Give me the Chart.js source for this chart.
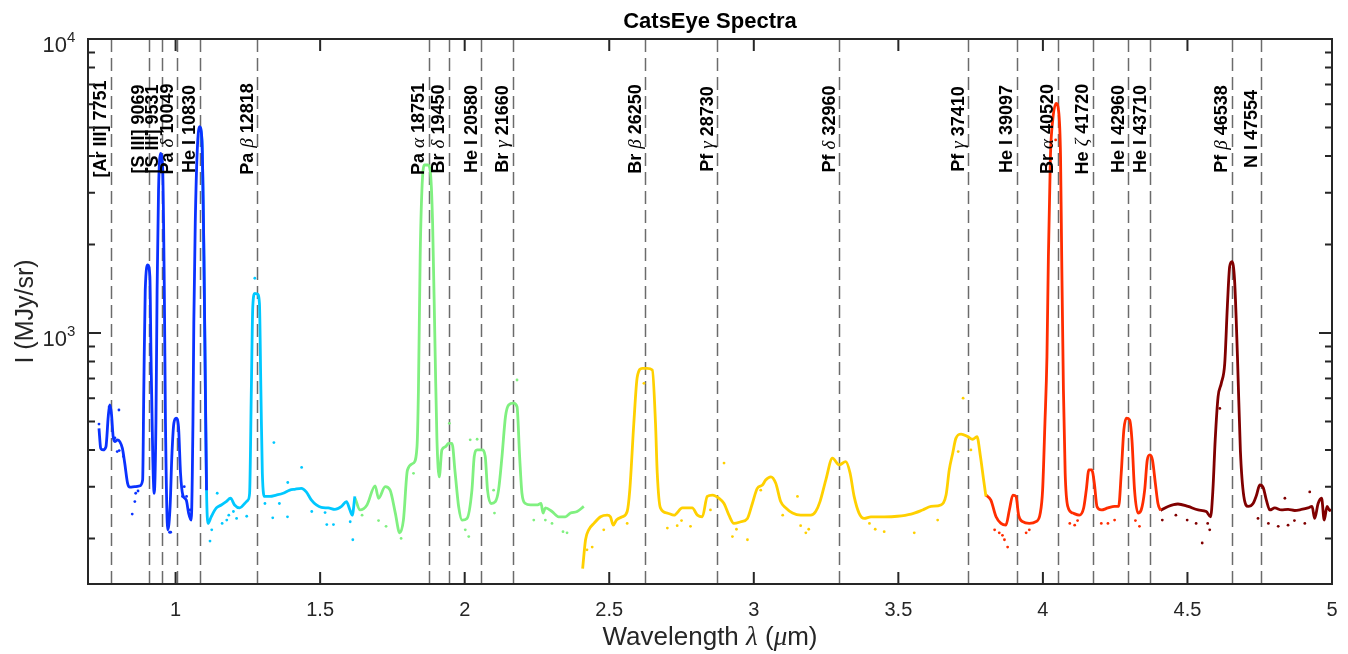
<!DOCTYPE html>
<html>
<head>
<meta charset="utf-8">
<title>CatsEye Spectra</title>
<script src="https://cdn.jsdelivr.net/npm/chart.js@4.4.1/dist/chart.umd.min.js"></script>
<style>
  html, body { margin: 0; padding: 0; background: #fff; }
  #wrap { width: 1348px; height: 654px; position: relative; }
</style>
</head>
<body>
<div id="wrap"><canvas id="spectrum"></canvas></div>
<script>
// ---- data (wavelength in um, intensity in MJy/sr) ----

// segment 1 (blue)
const blueWave = [0.735, 0.741, 0.749, 0.759, 0.767, 0.772, 0.778, 0.784, 0.790, 0.798, 0.807, 0.816, 0.824, 0.834, 0.842, 0.859, 0.876, 0.886, 0.890, 0.895, 0.904, 0.911, 0.915, 0.921, 0.926, 0.932, 0.936, 0.941, 0.948, 0.955, 0.961, 0.965, 0.973, 0.981, 0.987, 0.994, 1.002, 1.010, 1.017, 1.025, 1.037, 1.045, 1.054, 1.060, 1.063, 1.068, 1.075, 1.083, 1.091, 1.098, 1.103, 1.107];
const blueFlux = [474, 405, 400, 410, 519, 569, 533, 444, 427, 433, 427, 405, 361, 308, 299, 300, 302, 316, 640, 1400, 1703, 1554, 830, 380, 285, 493, 1400, 3063, 4083, 3681, 1400, 493, 214, 257, 380, 493, 513, 480, 334, 281, 270, 244, 231, 493, 1079, 2361, 4190, 5035, 4535, 1818, 640, 292];

// segment 2 (cyan)
const cyanWave = [1.083, 1.091, 1.098, 1.103, 1.107, 1.112, 1.123, 1.141, 1.158, 1.175, 1.190, 1.204, 1.222, 1.239, 1.250, 1.256, 1.262, 1.267, 1.274, 1.283, 1.290, 1.295, 1.300, 1.308, 1.326, 1.348, 1.372, 1.395, 1.412, 1.435, 1.452, 1.470, 1.487, 1.504, 1.528, 1.551, 1.574, 1.591, 1.603, 1.611, 1.620];
const cyanFlux = [5035, 4535, 1818, 640, 292, 225, 237, 254, 260, 267, 274, 260, 254, 263, 270, 285, 640, 1229, 1364, 1357, 1262, 640, 334, 278, 278, 281, 285, 292, 294, 296, 288, 270, 260, 255, 254, 251, 257, 267, 250, 240, 278];

// segment 3 (green)
const greenWave = [1.621, 1.638, 1.662, 1.690, 1.702, 1.725, 1.742, 1.760, 1.775, 1.788, 1.802, 1.823, 1.835, 1.840, 1.846, 1.852, 1.860, 1.872, 1.881, 1.889, 1.898, 1.904, 1.912, 1.921, 1.933, 1.944, 1.956, 1.967, 1.979, 1.991, 2.008, 2.025, 2.033, 2.043, 2.060, 2.071, 2.079, 2.091, 2.106, 2.117, 2.129, 2.141, 2.152, 2.169, 2.181, 2.190, 2.198, 2.210, 2.227, 2.250, 2.264, 2.271, 2.279, 2.302, 2.325, 2.348, 2.366, 2.389, 2.412];
const greenFlux = [274, 250, 260, 302, 274, 300, 292, 244, 209, 231, 342, 361, 410, 640, 1818, 3063, 3727, 3727, 3541, 2361, 830, 433, 324, 400, 410, 421, 421, 334, 257, 231, 234, 292, 380, 400, 400, 380, 292, 263, 267, 292, 380, 519, 569, 577, 561, 380, 285, 263, 260, 260, 263, 244, 254, 247, 237, 237, 244, 247, 257];

// segment 4 (yellow)
const yellowWave = [2.408, 2.418, 2.429, 2.447, 2.470, 2.493, 2.504, 2.514, 2.525, 2.545, 2.562, 2.571, 2.585, 2.597, 2.614, 2.631, 2.649, 2.660, 2.666, 2.677, 2.701, 2.724, 2.753, 2.787, 2.805, 2.822, 2.839, 2.857, 2.880, 2.897, 2.914, 2.931, 2.955, 2.978, 2.995, 3.012, 3.030, 3.041, 3.059, 3.076, 3.093, 3.111, 3.134, 3.162, 3.197, 3.214, 3.229, 3.249, 3.272, 3.295, 3.318, 3.333, 3.347, 3.364, 3.382, 3.405, 3.451, 3.497, 3.544, 3.584, 3.613, 3.647, 3.665, 3.676, 3.688, 3.699, 3.717, 3.740, 3.757, 3.772, 3.784, 3.795, 3.803];
const yellowFlux = [158, 198, 214, 225, 237, 240, 237, 222, 231, 237, 247, 292, 493, 710, 758, 758, 748, 493, 334, 254, 244, 240, 254, 254, 240, 237, 278, 281, 274, 263, 240, 225, 228, 234, 263, 296, 304, 316, 324, 308, 267, 254, 244, 240, 240, 247, 267, 316, 375, 356, 365, 334, 278, 244, 234, 237, 237, 238, 242, 250, 257, 260, 281, 342, 390, 438, 453, 444, 435, 444, 380, 316, 278];

// segment 5 (red)
const redWave = [3.803, 3.820, 3.838, 3.855, 3.872, 3.884, 3.896, 3.907, 3.916, 3.930, 3.953, 3.976, 3.991, 3.999, 4.007, 4.014, 4.019, 4.026, 4.034, 4.046, 4.054, 4.061, 4.065, 4.071, 4.077, 4.086, 4.104, 4.126, 4.141, 4.150, 4.159, 4.169, 4.178, 4.187, 4.202, 4.225, 4.248, 4.262, 4.271, 4.280, 4.289, 4.300, 4.308, 4.317, 4.329, 4.340, 4.352, 4.361, 4.370, 4.379, 4.389, 4.398, 4.407];
const redFlux = [281, 270, 237, 225, 222, 250, 281, 278, 240, 228, 225, 228, 244, 292, 493, 830, 1818, 3981, 5302, 6040, 5723, 3981, 1818, 640, 334, 257, 244, 240, 254, 292, 342, 342, 308, 257, 250, 254, 257, 257, 334, 468, 513, 506, 433, 292, 244, 250, 292, 370, 385, 370, 308, 263, 249];

// segment 6 (dark red)
const darkWave = [4.407, 4.433, 4.467, 4.502, 4.537, 4.565, 4.580, 4.588, 4.596, 4.606, 4.617, 4.629, 4.638, 4.646, 4.654, 4.663, 4.673, 4.683, 4.695, 4.710, 4.727, 4.739, 4.750, 4.762, 4.773, 4.785, 4.802, 4.825, 4.848, 4.871, 4.894, 4.917, 4.931, 4.940, 4.952, 4.964, 4.973, 4.983, 4.992, 5.000];
const darkFlux = [249, 257, 262, 257, 250, 247, 237, 292, 433, 607, 674, 788, 1229, 1681, 1749, 1513, 830, 400, 278, 257, 263, 281, 304, 298, 270, 250, 254, 250, 251, 249, 251, 254, 257, 234, 263, 274, 231, 257, 249, 251];

// loose raw samples scattered around each segment
const blueDotWave = [0.735, 0.770, 0.790, 0.798, 0.804, 0.805, 0.820, 0.850, 0.859, 0.862, 0.870, 0.979, 0.983, 1.024, 1.030, 1.038, 1.050];
const blueDotFlux = [490, 560, 440, 395, 547, 398, 380, 242, 267, 285, 290, 210, 210, 278, 300, 278, 250];
const cyanDotWave = [1.119, 1.125, 1.144, 1.161, 1.177, 1.184, 1.200, 1.211, 1.246, 1.274, 1.309, 1.336, 1.340, 1.359, 1.387, 1.388, 1.436, 1.471, 1.517, 1.523, 1.546, 1.604, 1.613];
const cyanDotFlux = [196, 214, 285, 225, 231, 240, 247, 234, 238, 1535, 263, 235, 424, 263, 237, 310, 349, 247, 245, 223, 223, 228, 198];
const greenDotWave = [1.645, 1.702, 1.728, 1.780, 1.823, 1.947, 2.002, 2.014, 2.019, 2.043, 2.100, 2.103, 2.181, 2.239, 2.279, 2.302, 2.340, 2.354];
const greenDotFlux = [240, 230, 220, 200, 333, 493, 214, 203, 433, 435, 292, 244, 692, 231, 231, 225, 211, 209];
const yellowDotWave = [2.423, 2.441, 2.481, 2.562, 2.620, 2.701, 2.735, 2.750, 2.781, 2.850, 2.897, 2.926, 2.940, 2.978, 3.024, 3.100, 3.151, 3.162, 3.180, 3.190, 3.400, 3.420, 3.451, 3.555, 3.636, 3.707, 3.724, 3.751];
const yellowDotFlux = [183, 187, 214, 225, 674, 217, 221, 230, 220, 250, 361, 203, 215, 198, 292, 240, 278, 221, 209, 215, 225, 215, 211, 209, 231, 395, 600, 400];
const redDotWave = [3.833, 3.849, 3.860, 3.867, 3.878, 3.942, 3.953, 4.044, 4.093, 4.110, 4.120, 4.202, 4.225, 4.248, 4.320, 4.334];
const redDotFlux = [214, 209, 205, 198, 187, 209, 214, 4535, 225, 222, 230, 225, 225, 231, 230, 220];
const darkDotWave = [4.413, 4.460, 4.499, 4.530, 4.551, 4.570, 4.577, 4.612, 4.744, 4.780, 4.814, 4.837, 4.848, 4.870, 4.906, 4.923];
const darkDotFlux = [231, 240, 231, 225, 193, 225, 214, 554, 234, 225, 220, 274, 222, 230, 225, 288];

// emission line markers
const lineWave = [0.7751, 0.9069, 0.9531, 1.0049, 1.0830, 1.2818, 1.8751, 1.9450, 2.0580, 2.1660, 2.6250, 2.8730, 3.2960, 3.7410, 3.9097, 4.0520, 4.1720, 4.2960, 4.3710, 4.6538, 4.7554];
const lineName = ['[Ar III] 7751', '[S III] 9069', '[S III] 9531', 'Pa δ 10049', 'He I 10830', 'Pa β 12818', 'Pa α 18751', 'Br δ 19450', 'He I 20580', 'Br γ 21660', 'Br β 26250', 'Pf γ 28730', 'Pf δ 32960', 'Pf γ 37410', 'He I 39097', 'Br α 40520', 'He ζ 41720', 'He I 42960', 'He I 43710', 'Pf β 46538', 'N I 47554'];

// axis ticks
const xTicks = [1, 1.5, 2, 2.5, 3, 3.5, 4, 4.5, 5];
const yMajorTicks = [1000, 10000];
const yMinorTicks = [200, 300, 400, 500, 600, 700, 800, 900, 2000, 3000, 4000, 5000, 6000, 7000, 8000, 9000];

const SEG_COLORS = ['#0a32ff', '#00c8ff', '#80f080', '#ffd000', '#ff2d00', '#800000'];
const FONT = '"Liberation Sans", Arial, Helvetica, sans-serif';
const GREEK = '"Liberation Serif", "DejaVu Serif", serif';
const AXIS_COLOR = '#262626';

const toPoints = (w, f) => w.map((x, i) => ({ x: x, y: f[i] }));

const segments = [
    [blueWave, blueFlux, blueDotWave, blueDotFlux],
    [cyanWave, cyanFlux, cyanDotWave, cyanDotFlux],
    [greenWave, greenFlux, greenDotWave, greenDotFlux],
    [yellowWave, yellowFlux, yellowDotWave, yellowDotFlux],
    [redWave, redFlux, redDotWave, redDotFlux],
    [darkWave, darkFlux, darkDotWave, darkDotFlux]
];

const datasets = [];
segments.forEach((s, i) => {
    datasets.push({
        data: toPoints(s[2], s[3]),
        showLine: false,
        pointRadius: 1.4,
        pointBorderWidth: 0,
        pointBackgroundColor: SEG_COLORS[i]
    });
    datasets.push({
        data: toPoints(s[0], s[1]),
        showLine: true,
        borderColor: SEG_COLORS[i],
        borderWidth: 2.8,
        pointRadius: 0,
        cubicInterpolationMode: 'monotone'
    });
});

// split a label into plain and greek (TeX italic) runs
function splitGreek(str) {
    return str.split(/([α-ω])/).filter(s => s.length).map(s => ({ text: s, greek: /[α-ω]/.test(s) }));
}

// draw mixed text centered on cx, baseline y
function drawMixed(ctx, str, cx, y, font, greekFont) {
    const parts = splitGreek(str);
    let total = 0;
    parts.forEach(p => {
        ctx.font = p.greek ? greekFont : font;
        p.w = ctx.measureText(p.text).width;
        total += p.w;
    });
    let x = cx - total / 2;
    ctx.textAlign = 'left';
    parts.forEach(p => {
        ctx.font = p.greek ? greekFont : font;
        ctx.fillText(p.text, x, y);
        x += p.w;
    });
}

// dashed markers behind the spectrum
const lineMarkers = {
    id: 'lineMarkers',
    beforeDatasetsDraw(chart) {
        const { ctx, chartArea, scales } = chart;
        ctx.save();
        ctx.strokeStyle = 'rgba(70,70,70,0.8)';
        ctx.lineWidth = 1.5;
        ctx.setLineDash([13, 6]);
        lineWave.forEach(w => {
            const x = Math.round(scales.x.getPixelForValue(w)) + 0.5;
            ctx.beginPath();
            ctx.moveTo(x, chartArea.top);
            ctx.lineTo(x, chartArea.bottom);
            ctx.stroke();
        });
        ctx.restore();
    }
};

// MATLAB style box, inward ticks, labels and line names
const matlabAxes = {
    id: 'matlabAxes',
    afterDatasetsDraw(chart) {
        const { ctx, chartArea: a, scales } = chart;
        const xs = scales.x, ys = scales.y;
        ctx.save();

        // line names, rotated, just left of each dashed line
        ctx.fillStyle = '#000';
        ctx.textBaseline = 'alphabetic';
        lineWave.forEach((w, i) => {
            const x = xs.getPixelForValue(w);
            ctx.save();
            ctx.translate(x - 4.5, 129);
            ctx.rotate(-Math.PI / 2);
            drawMixed(ctx, lineName[i], 0, 0, 'bold 18px ' + FONT, 'italic 19px ' + GREEK);
            ctx.restore();
        });

        // box
        ctx.strokeStyle = AXIS_COLOR;
        ctx.lineWidth = 2;
        ctx.strokeRect(a.left, a.top, a.right - a.left, a.bottom - a.top);

        // x ticks top and bottom
        ctx.beginPath();
        xTicks.forEach(v => {
            const x = xs.getPixelForValue(v);
            ctx.moveTo(x, a.bottom); ctx.lineTo(x, a.bottom - 12);
            ctx.moveTo(x, a.top); ctx.lineTo(x, a.top + 12);
        });
        // y ticks left and right
        yMajorTicks.forEach(v => {
            const y = ys.getPixelForValue(v);
            ctx.moveTo(a.left, y); ctx.lineTo(a.left + 13, y);
            ctx.moveTo(a.right, y); ctx.lineTo(a.right - 13, y);
        });
        yMinorTicks.forEach(v => {
            const y = ys.getPixelForValue(v);
            ctx.moveTo(a.left, y); ctx.lineTo(a.left + 7, y);
            ctx.moveTo(a.right, y); ctx.lineTo(a.right - 7, y);
        });
        ctx.stroke();

        // x tick labels
        ctx.fillStyle = AXIS_COLOR;
        ctx.font = '20px ' + FONT;
        ctx.textAlign = 'center';
        xTicks.forEach(v => {
            const label = Number.isInteger(v) ? String(v) : v.toFixed(1);
            ctx.fillText(label, xs.getPixelForValue(v), a.bottom + 32);
        });

        // y tick labels as 10^n
        yMajorTicks.forEach(v => {
            const y = ys.getPixelForValue(v);
            ctx.font = '22px ' + FONT;
            ctx.textAlign = 'right';
            ctx.fillText('10', a.left - 21, y + 13);
            ctx.font = '15px ' + FONT;
            ctx.textAlign = 'left';
            ctx.fillText(String(Math.round(Math.log10(v))), a.left - 21, y + 3);
        });

        // axis titles
        drawMixed(ctx, 'Wavelength λ (μm)', (a.left + a.right) / 2, 645, '26px ' + FONT, 'italic 27px ' + GREEK);
        ctx.save();
        ctx.translate(33, (a.top + a.bottom) / 2);
        ctx.rotate(-Math.PI / 2);
        drawMixed(ctx, 'I (MJy/sr)', 0, 0, '25px ' + FONT, '25px ' + FONT);
        ctx.restore();

        // title
        ctx.fillStyle = '#000';
        ctx.font = 'bold 22px ' + FONT;
        ctx.textAlign = 'center';
        ctx.fillText('CatsEye Spectra', (a.left + a.right) / 2, 28);

        ctx.restore();
    }
};

const canvas = document.getElementById('spectrum');
new Chart(canvas.getContext('2d'), {
    type: 'scatter',
    data: { datasets: datasets },
    options: {
        responsive: true,
        maintainAspectRatio: false,
        devicePixelRatio: 1,
        animation: false,
        layout: { padding: { left: 88, right: 16, top: 39, bottom: 70 } },
        scales: {
            x: { type: 'linear', min: 0.697, max: 5, display: false },
            y: { type: 'logarithmic', min: 140, max: 10000, display: false }
        },
        plugins: {
            legend: { display: false },
            tooltip: { enabled: false },
            title: { display: false }
        }
    },
    plugins: [lineMarkers, matlabAxes]
});
</script>
</body>
</html>
